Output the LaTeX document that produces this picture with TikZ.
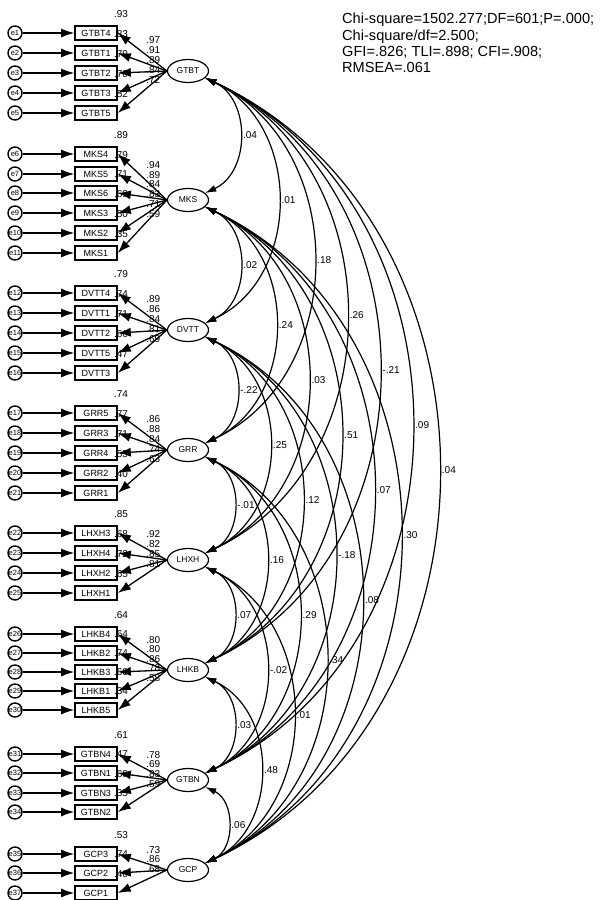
\documentclass[tikz,border=0pt]{standalone}
\usepackage{fontspec}
\setmainfont{Liberation Sans}
\usetikzlibrary{arrows.meta,shapes.geometric}
\tikzset{
  arr/.style={line width=1.3pt,-{Latex[length=13pt,width=9pt]}},
  cov/.style={line width=1.2pt,{Latex[length=11pt,width=7pt]}-{Latex[length=11pt,width=7pt]}},
  obsbox/.style={draw,line width=1.6pt,minimum width=42pt,minimum height=14pt,inner sep=0pt,font=\fontsize{9}{9}\selectfont,fill=white},
  errc/.style={draw,circle,line width=1.4pt,minimum size=14pt,inner sep=0pt,font=\fontsize{7.5}{7.5}\selectfont,fill=white},
  fac/.style={draw,ellipse,line width=1.2pt,minimum width=41pt,minimum height=23pt,inner sep=0pt,font=\fontsize{8.5}{9}\selectfont,fill=white},
  lbl/.style={inner sep=0pt,font=\fontsize{10}{10}\selectfont},
  covlbl/.style={pos=0.5,anchor=west,inner sep=1pt,xshift=2pt,font=\fontsize{10}{10}\selectfont}
}
\begin{document}
\begin{tikzpicture}[x=1pt,y=1pt]
\useasboundingbox (0,0) rectangle (606,-900);
% factors
\foreach \f/\y in {GTBT/71,MKS/200,DVTT/330,GRR/450,LHXH/560,LHKB/670,GTBN/780,GCP/870}
  \node[fac] (\f) at (188,-\y) {\f};
% indicators
\foreach \f/\n/\y/\e/\r/\l in {
  GTBT/GTBT4/33/e1/.93/.97, GTBT/GTBT1/53/e2/.83/.91, GTBT/GTBT2/73/e3/.79/.89, GTBT/GTBT3/93/e4/.70/.84, GTBT/GTBT5/113/e5/.52/.72,
  MKS/MKS4/154/e6/.89/.94, MKS/MKS5/174/e7/.79/.89, MKS/MKS6/193/e8/.71/.84, MKS/MKS3/213/e9/.69/.83, MKS/MKS2/233/e10/.50/.71, MKS/MKS1/253/e11/.35/.59,
  DVTT/DVTT4/293/e12/.79/.89, DVTT/DVTT1/313/e13/.74/.86, DVTT/DVTT2/333/e14/.71/.84, DVTT/DVTT5/353/e15/.66/.81, DVTT/DVTT3/373/e16/.47/.69,
  GRR/GRR5/413/e17/.74/.86, GRR/GRR3/433/e18/.77/.88, GRR/GRR4/453/e19/.71/.84, GRR/GRR2/473/e20/.55/.74, GRR/GRR1/493/e21/.40/.63,
  LHXH/LHXH3/533/e22/.85/.92, LHXH/LHXH4/553/e23/.68/.82, LHXH/LHXH2/573/e24/.72/.85, LHXH/LHXH1/593/e25/.65/.81,
  LHKB/LHKB4/634/e26/.64/.80, LHKB/LHKB2/653/e27/.64/.80, LHKB/LHKB3/672/e28/.74/.86, LHKB/LHKB1/691/e29/.60/.78, LHKB/LHKB5/710/e30/.34/.58,
  GTBN/GTBN4/754/e31/.61/.78, GTBN/GTBN1/773/e32/.47/.69, GTBN/GTBN3/793/e33/.68/.83, GTBN/GTBN2/812/e34/.35/.59,
  GCP/GCP3/854/e35/.53/.73, GCP/GCP2/873/e36/.74/.86, GCP/GCP1/893/e37/.46/.68}
{
  \node[obsbox] (\n) at (96,-\y) {\n};
  \node[errc] (\e) at (15,-\y) {\e};
  \draw[arr] (\e) -- (\n);
  \draw[arr] (\f.west) -- (\n.east) node[midway,lbl,xshift=11pt,yshift=12pt] {\l};
  \node[lbl] at (121,-\y+18.5) {\r};
}
% covariances
\foreach \a/\b/\v in {
  GTBT/MKS/.04, GTBT/DVTT/.01, GTBT/GRR/.18, GTBT/LHXH/.26, GTBT/LHKB/-.21, GTBT/GTBN/.09, GTBT/GCP/.04,
  MKS/DVTT/.02, MKS/GRR/.24, MKS/LHXH/.03, MKS/LHKB/.51, MKS/GTBN/.07, MKS/GCP/.30,
  DVTT/GRR/-.22, DVTT/LHXH/.25, DVTT/LHKB/.12, DVTT/GTBN/-.18, DVTT/GCP/.08,
  GRR/LHXH/-.01, GRR/LHKB/.16, GRR/GTBN/.29, GRR/GCP/.34,
  LHXH/LHKB/.07, LHXH/GTBN/-.02, LHXH/GCP/.01,
  LHKB/GTBN/.03, LHKB/GCP/.48,
  GTBN/GCP/.06}
  \draw[cov] (\a.-22) to[bend left=65,looseness=1.12] node[covlbl] {\v} (\b.22);
% fit text
\node[anchor=north west,inner sep=0pt,align=left,font=\fontsize{14.6}{16.3}\selectfont] (fit) at (342,-13)
 {Chi-square=1502.277;DF=601;P=.000;\\Chi-square/df=2.500;\\GFI=.826; TLI=.898; CFI=.908;\\RMSEA=.061};
\end{tikzpicture}
\end{document}
